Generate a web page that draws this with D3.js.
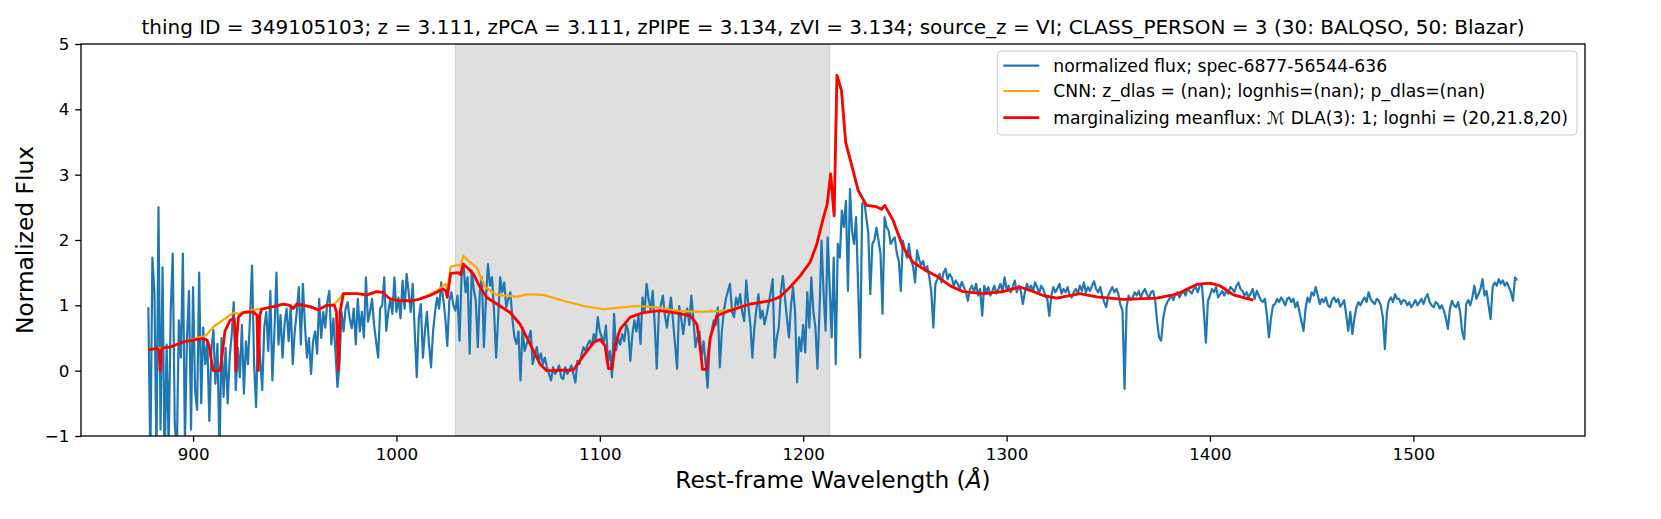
<!DOCTYPE html>
<html>
<head>
<meta charset="utf-8">
<title>Spectrum with DLA fits</title>
<script src="https://d3js.org/d3.v7.min.js"></script>
<style>
  body { margin: 0; background: #fff; }
  text { font-family: "DejaVu Sans", sans-serif; }
</style>
</head>
<body>
<svg id="chart"></svg>
<script>
// ---- data ----
const titleText = "thing ID = 349105103; z = 3.111, zPCA = 3.111, zPIPE = 3.134, zVI = 3.134; source_z = VI; CLASS_PERSON = 3 (30: BALQSO, 50: Blazar)";
const xTicks = [900, 1000, 1100, 1200, 1300, 1400, 1500];
const yTicks = [-1, 0, 1, 2, 3, 4, 5];
const shadedRange = [1029, 1213];

// normalized flux, one value per Angstrom starting at fluxStart
const fluxStart = 878, fluxStep = 1;
const fluxValues = [
  0.97, -1.4, 1.73, 1.2, -1.3, 2.5, -0.9, 1.58, -1.5, 0.4,      // 878
  -1.2, 0.9, 1.79, -0.8, -1.3, 0.77, 0.2, 1.79, -1.1, 0.5,      // 888
  1.22, -0.9, 1.28, -0.3, -0.6, 1.5, -0.5, 0.66, 0.1, 0.45,     // 898
  -0.77, 0.3, 0.62, -0.2, 0.41, -1.3, 0.5, -0.4, 0.35, -0.5,    // 908
  0.2, 0.55, 1.05, -0.3, 0.35, -0.1, 0.7, -0.35, 0.45, 0.1,     // 918
  0.8, 1.61, 0.1, -0.56, 0.75, 0.2, -0.3, 0.66, 0.9, 0.3,       // 928
  1.22, -0.15, 0.6, 1.5, 0.4, 0.85, 0.2, 0.72, 0.95, 0.45,      // 938
  1.0, 0.1, 0.6, 0.9, 1.28, 0.4, 1.33, 0.7, 0.2, 0.5,           // 948
  -0.05, 0.45, 0.6, 0.26, 1.1, 0.5, 0.9, 0.66, 1.05, 1.22,      // 958
  0.4, 0.8, 0.3, -0.25, 0.1, 0.9, 0.6, 0.95, 1.05, 0.8,         // 968
  0.65, 0.95, 0.4, 1.1, 0.6, 0.9, 0.51, 1.43, 0.75, 0.9,        // 978
  1.1, 0.7, 0.45, 0.2, 0.95, 1.0, 1.43, 0.61, 0.9, 1.1,         // 988
  0.87, 1.43, 0.9, 1.12, 0.8, 1.38, 0.95, 1.48, 1.2, 0.9,       // 998
  1.33, 0.6, -0.1, 0.8, 1.02, 0.2, 0.6, 0.9, 0.41, 0.05,        // 1008
  0.6, 0.9, 1.12, 0.95, 1.35, 1.1, 0.82, 0.38, 1.07, 1.2,       // 1018
  1.0, 0.92, 1.15, 0.46, 1.43, 1.63, 1.2, 1.43, 0.26, 1.53,     // 1028
  1.25, 1.07, 0.36, 1.2, 1.43, 0.36, 1.1, 1.63, 1.3, 1.43,      // 1038
  0.9, 0.2, 0.8, 1.43, 1.2, 1.35, 0.97, 1.1, 1.2, 0.8,          // 1048
  0.51, 0.41, 0.6, -0.15, 0.66, 0.3, 0.41, 0.5, 0.61, 0.1,      // 1058
  0.25, 0.36, 0.15, 0.26, 0.1, 0.2, 0.05, -0.05, -0.15, 0.05,   // 1068
  -0.05, 0.0, 0.08, -0.1, -0.13, 0.05, -0.05, 0.0, 0.08, -0.05, // 1078
  -0.18, 0.15, 0.1, 0.25, 0.36, 0.3, 0.4, 0.46, 0.38, 0.56,     // 1088
  0.45, 0.82, 0.6, 0.51, 0.45, 0.69, 0.15, 0.3, -0.1, 0.87,     // 1098
  0.31, 0.5, 0.4, 0.56, 0.45, 0.71, 0.6, 0.15, 0.55, 0.77,      // 1108
  0.6, 0.85, 0.41, 1.12, 0.9, 1.33, 1.1, 0.92, 1.22, 0.7,       // 1118
  0.03, 0.87, 1.0, 1.15, 0.85, 0.66, 0.9, 1.12, 0.76, 0.4,      // 1128
  0.03, 0.99, 0.8, 0.56, 0.82, 0.95, 0.7, 1.15, 0.8, 0.36,      // 1138
  0.51, 0.6, 0.2, 0.45, 0.1, -0.26, 0.41, 0.6, 0.77, 0.7,       // 1148
  0.97, 0.05, 0.6, 0.92, 1.1, 1.22, 1.33, 0.9, 0.82, 1.12,      // 1158
  1.0, 1.17, 0.9, 0.76, 1.38, 1.0, 0.71, 0.2, 0.66, 0.95,       // 1168
  1.17, 0.8, 0.92, 0.71, 0.85, 1.02, 1.2, 1.4, 0.2, 0.5,        // 1178
  0.66, 1.2, 1.45, 1.12, 0.8, 0.51, 1.0, 1.28, 0.9, -0.18,      // 1188
  0.51, 0.3, 0.7, 0.28, 1.2, 0.66, 1.43, 0.9, 0.66, 0.03,       // 1198
  0.9, 1.99, 1.2, 0.61, 2.04, 1.3, 0.51, 1.73, 0.1, 1.94,       // 1208
  1.73, 2.45, 2.2, 2.6, 1.22, 2.78, 2.14, 1.94, 2.35, 1.3,      // 1218
  0.2, 2.55, 2.6, 2.35, 2.1, 1.17, 1.94, 2.0, 2.19, 2.0,        // 1228
  1.79, 0.87, 2.35, 2.2, 2.14, 1.94, 2.0, 2.04, 1.8, 1.68,      // 1238
  1.22, 1.99, 1.85, 1.73, 1.94, 1.7, 1.6, 1.35, 1.84, 1.7,      // 1248
  1.62, 1.68, 1.53, 1.6, 1.43, 1.2, 0.66, 1.33, 1.4, 1.48,      // 1258
  1.35, 1.5, 1.56, 1.4, 1.48, 1.43, 1.3, 1.38, 1.33, 1.25,      // 1268
  1.36, 1.28, 1.2, 1.07, 1.25, 1.3, 1.2, 1.33, 1.15, 1.25,      // 1278
  0.84, 1.3, 1.2, 1.28, 1.15, 1.22, 1.3, 1.18, 1.25, 1.33,      // 1288
  1.2, 1.43, 1.25, 1.3, 1.2, 1.28, 1.38, 1.2, 1.3, 1.22,        // 1298
  1.02, 1.2, 1.33, 1.25, 1.3, 1.22, 1.35, 1.28, 1.18, 1.3,      // 1308
  1.25, 1.15, 1.1, 0.84, 1.15, 1.28, 1.2, 1.26, 1.33, 1.18,     // 1318
  1.25, 1.2, 1.28, 1.15, 1.12, 1.2, 1.25, 1.18, 1.3, 1.22,      // 1328
  1.35, 1.2, 1.28, 1.22, 1.3, 1.37, 1.25, 1.2, 1.28, 1.15,      // 1338
  1.05, 0.97, 1.15, 1.22, 1.28, 1.2, 1.25, 1.17, 1.0, 0.92,     // 1348
  -0.28, 0.97, 1.15, 1.08, 1.12, 1.2, 1.15, 1.22, 1.12, 1.2,    // 1358
  1.25, 1.17, 1.1, 1.2, 1.22, 1.1, 0.75, 0.51, 0.46, 0.8,       // 1368
  0.97, 1.05, 1.1, 1.15, 1.08, 1.17, 1.2, 1.12, 1.18, 1.22,     // 1378
  1.15, 1.25, 1.22, 1.18, 1.25, 1.28, 1.2, 1.3, 1.33, 0.9,      // 1388
  0.43, 1.07, 1.15, 1.25, 1.2, 1.28, 1.12, 1.17, 1.22, 1.15,    // 1398
  1.22, 1.18, 1.28, 1.25, 1.2, 1.3, 1.35, 1.25, 1.22, 1.15,     // 1408
  1.2, 1.12, 1.18, 1.25, 1.1, 1.22, 1.15, 1.08, 1.05, 1.1,      // 1418
  0.85, 0.51, 0.8, 1.0, 1.02, 1.1, 1.05, 1.12, 1.07, 1.0,       // 1428
  1.1, 1.12, 1.05, 1.1, 0.97, 1.05, 0.9, 0.75, 0.61, 0.95,      // 1438
  1.12, 1.05, 1.2, 1.15, 1.28, 1.15, 1.02, 1.1, 1.05, 1.12,     // 1448
  1.0, 0.97, 1.08, 1.12, 1.05, 1.1, 0.98, 1.02, 1.08, 0.85,     // 1458
  0.61, 0.9, 0.56, 0.8, 0.97, 1.05, 1.0, 1.07, 1.12, 1.05,      // 1468
  1.2, 1.1, 1.05, 1.02, 1.1, 1.07, 1.0, 0.82, 0.33, 0.9,        // 1478
  1.07, 1.12, 1.05, 1.17, 1.1, 1.1, 1.02, 1.08, 1.07, 1.0,      // 1488
  1.05, 0.97, 1.02, 1.08, 1.0, 1.05, 1.1, 1.02, 1.12, 1.17,     // 1498
  1.05, 1.0, 0.97, 1.05, 1.02, 0.95, 1.0, 0.92, 0.8, 0.64,      // 1508
  0.95, 1.07, 1.0, 0.97, 1.05, 0.9, 0.6, 0.48, 1.02, 1.08,      // 1518
  1.0, 1.12, 1.3, 1.1, 1.17, 1.25, 1.4, 1.15, 1.22, 1.0,        // 1528
  0.79, 1.28, 1.35, 1.3, 1.4, 1.33, 1.38, 1.3, 1.35, 1.28,      // 1538
  1.2, 1.07, 1.43, 1.38                                         // 1548
];

// CNN model continuum [wavelength, flux]
const cnnCurve = [
  [878, 0.32], [882.5, 0.34], [885, 0.35], [888.7, 0.36], [892, 0.4], [895.2, 0.44],
  [898.5, 0.47], [901.8, 0.5], [905, 0.52], [906.7, 0.55], [910, 0.67], [914.5, 0.77],
  [918.2, 0.85], [920.2, 0.89], [922.3, 0.87], [924.7, 0.89], [929.6, 0.93], [933.7, 0.95],
  [939.5, 0.98], [944.4, 1.02], [947.5, 1.0], [949.3, 0.96], [951, 1.02], [957.5, 0.98],
  [961.5, 0.94], [965.7, 1.0], [970, 1.03], [973.9, 1.18], [980.4, 1.18], [985.4, 1.16],
  [990.3, 1.21], [993, 1.2], [996.8, 1.1], [1001.7, 1.07], [1008, 1.07], [1011.6, 1.1],
  [1016.5, 1.17], [1019.8, 1.22], [1023, 1.3], [1024.2, 1.33], [1025, 1.25], [1026.7, 1.59],
  [1030.4, 1.62], [1031.5, 1.6], [1032.9, 1.76], [1035.4, 1.68], [1039.4, 1.58], [1043.6, 1.28],
  [1049.4, 1.16], [1059.2, 1.13], [1064.1, 1.17], [1072.3, 1.16], [1082.1, 1.07], [1092, 0.99],
  [1101.8, 0.94], [1108, 0.96], [1118.2, 0.99], [1128, 0.97], [1137.9, 0.92], [1147.8, 0.9],
  [1157.6, 0.91], [1164, 0.93], [1173.9, 1.02], [1183.7, 1.07], [1188.6, 1.13], [1193.6, 1.28],
  [1198.5, 1.45], [1203.4, 1.66], [1206.7, 1.94], [1210, 2.35], [1211.8, 2.55], [1213.5, 3.01],
  [1215.2, 2.37], [1216.6, 4.52], [1218.8, 4.29], [1220.9, 3.49], [1223.7, 3.16], [1227, 2.76],
  [1231.1, 2.53], [1236, 2.51], [1238.5, 2.47], [1240.1, 2.53], [1244.2, 2.3], [1249.1, 1.89],
  [1254, 1.66], [1260.6, 1.53], [1265.5, 1.45], [1272.1, 1.3], [1278.6, 1.21], [1288.5, 1.18],
  [1298.3, 1.21], [1306.5, 1.28], [1311.5, 1.23], [1318, 1.15], [1324.6, 1.11], [1336.1, 1.18],
  [1344.3, 1.13], [1357.4, 1.09], [1373.8, 1.11], [1383.6, 1.17], [1393.5, 1.32], [1400, 1.34],
  [1404.9, 1.3], [1411.5, 1.16], [1421.3, 1.08]
];

// marginalizing meanflux model with DLAs [wavelength, flux]
const dlaCurve = [
  [878, 0.32], [882.5, 0.34], [883.3, 0.3], [883.8, 0.0], [884.3, 0.3], [885, 0.35],
  [888.7, 0.36], [892, 0.4], [895.2, 0.44], [898.5, 0.46], [901.8, 0.48], [905, 0.49],
  [906.7, 0.47], [907.8, 0.4], [909, 0.15], [910, 0.0], [913.3, 0.0], [914.5, 0.3],
  [915.7, 0.61], [918.2, 0.77], [920.2, 0.8], [920.8, 0.5], [921.1, 0.0], [921.5, 0.5],
  [922.3, 0.82], [924.7, 0.89], [929.6, 0.9], [931.4, 0.85], [932.1, 0.0], [932.8, 0.85],
  [933.7, 0.94], [939.5, 0.98], [944.4, 1.02], [947.5, 1.0], [949.3, 0.95], [951, 1.02],
  [957.5, 0.98], [961.5, 0.93], [965.7, 1.0], [969.5, 1.0], [970.5, 0.9], [971.4, 0.0],
  [972.3, 0.9], [973.9, 1.18], [980.4, 1.18], [985.4, 1.16], [990.3, 1.21], [993, 1.2],
  [996.8, 1.1], [1001.7, 1.07], [1008, 1.07], [1011.6, 1.1], [1016.5, 1.15], [1019.8, 1.2],
  [1023, 1.25], [1024.2, 1.22], [1025, 1.12], [1025.8, 1.3], [1026.7, 1.49], [1030.4, 1.5],
  [1031.5, 1.47], [1032.9, 1.63], [1035.4, 1.56], [1037.8, 1.48], [1041.1, 1.28], [1044.4, 1.12],
  [1049.4, 1.02], [1055.9, 0.89], [1060.8, 0.71], [1065.7, 0.41], [1070.6, 0.1], [1073.9, 0.0],
  [1087, 0.01], [1092, 0.23], [1096.9, 0.43], [1100.2, 0.48], [1102.6, 0.38], [1103.6, 0.15],
  [1104.3, 0.03], [1106, 0.03], [1107.6, 0.41], [1110.1, 0.64], [1115, 0.82], [1121.5, 0.89],
  [1129.7, 0.92], [1137.9, 0.88], [1144.5, 0.84], [1147.8, 0.71], [1149.5, 0.3], [1150.5, 0.02],
  [1152.5, 0.02], [1153.5, 0.3], [1154.3, 0.51], [1157.6, 0.84], [1164, 0.92], [1173.9, 1.02],
  [1183.7, 1.07], [1188.6, 1.13], [1193.6, 1.28], [1198.5, 1.45], [1203.4, 1.66], [1206.7, 1.94],
  [1210, 2.35], [1211.8, 2.55], [1213.5, 3.01], [1215.2, 2.37], [1216.6, 4.52], [1218.8, 4.29],
  [1220.9, 3.49], [1223.7, 3.16], [1227, 2.76], [1231.1, 2.53], [1236, 2.51], [1238.5, 2.47],
  [1240.1, 2.53], [1244.2, 2.3], [1249.1, 1.89], [1254, 1.66], [1260.6, 1.53], [1265.5, 1.45],
  [1272.1, 1.3], [1278.6, 1.21], [1288.5, 1.18], [1298.3, 1.21], [1306.5, 1.28], [1311.5, 1.23],
  [1318, 1.15], [1324.6, 1.11], [1336.1, 1.18], [1344.3, 1.13], [1357.4, 1.09], [1373.8, 1.11],
  [1383.6, 1.17], [1393.5, 1.32], [1400, 1.34], [1404.9, 1.3], [1411.5, 1.16], [1421.3, 1.08]
];

const legendLabels = [
  "normalized flux; spec-6877-56544-636",
  "CNN: z_dlas = (nan); lognhis=(nan); p_dlas=(nan)",
  "marginalizing meanflux: \u2133 DLA(3): 1; lognhi = (20,21.8,20)"
];
const seriesColors = ["#1f77b4", "#ffa500", "#ff0000"];
const seriesWidths = [2.2, 2.2, 2.8];

// ---- layout ----
const W = 1661, H = 519;
const margin = {top: 44, right: 76, bottom: 83, left: 81};
const width = W - margin.left - margin.right,
      height = H - margin.top - margin.bottom;
const tickLen = 5.8;

const svg = d3.select("#chart")
    .attr("width", W)
    .attr("height", H);

svg.append("rect").attr("width", W).attr("height", H).attr("fill", "#fff");

const g = svg.append("g")
    .attr("transform", `translate(${margin.left},${margin.top})`);

const x = d3.scaleLinear().domain([844.9, 1584.4]).range([0, width]);
const y = d3.scaleLinear().domain([-1, 5]).range([height, 0]);

g.append("clipPath").attr("id", "plot-clip")
  .append("rect").attr("width", width).attr("height", height);

const plot = g.append("g").attr("clip-path", "url(#plot-clip)");

// shaded window
plot.append("rect")
    .attr("x", x(shadedRange[0]))
    .attr("y", 0)
    .attr("width", x(shadedRange[1]) - x(shadedRange[0]))
    .attr("height", height)
    .attr("fill", "gray").attr("fill-opacity", 0.25)
    .attr("stroke", "gray").attr("stroke-opacity", 0.25).attr("stroke-width", 1.2);

const line = d3.line().x(d => x(d[0])).y(d => y(d[1]));
const fluxData = fluxValues.map((v, i) => [fluxStart + i * fluxStep, v]);

[fluxData, cnnCurve, dlaCurve].forEach((d, i) => {
  plot.append("path")
      .datum(d)
      .attr("fill", "none")
      .attr("stroke", seriesColors[i])
      .attr("stroke-width", seriesWidths[i])
      .attr("stroke-linejoin", "round")
      .attr("d", line);
});

// axes
const xAxis = g.append("g")
    .attr("transform", `translate(0,${height})`)
    .call(d3.axisBottom(x).tickValues(xTicks).tickSize(tickLen).tickSizeOuter(0)
      .tickPadding(6.3).tickFormat(d3.format("d")));
const yAxis = g.append("g")
    .call(d3.axisLeft(y).tickValues(yTicks).tickSize(tickLen).tickSizeOuter(0)
      .tickPadding(5.8).tickFormat(d3.format("d")));

[xAxis, yAxis].forEach(a => {
  a.select(".domain").remove();
  a.selectAll("text").attr("font-size", 16.7).attr("fill", "#000")
      .attr("font-family", "DejaVu Sans");
  a.selectAll("line").attr("stroke", "#000").attr("stroke-width", 1.3);
});

// frame
g.append("rect")
    .attr("width", width).attr("height", height)
    .attr("fill", "none").attr("stroke", "#000").attr("stroke-width", 1.3);

// labels
svg.append("text")
    .attr("x", margin.left + width / 2).attr("y", 33.5)
    .attr("text-anchor", "middle").attr("font-size", 20)
    .text(titleText);

const xl = svg.append("text")
    .attr("x", margin.left + width / 2).attr("y", 488)
    .attr("text-anchor", "middle").attr("font-size", 23.3);
xl.append("tspan").text("Rest-frame Wavelength (");
xl.append("tspan").attr("font-style", "italic").text("\u00c5");
xl.append("tspan").text(")");

svg.append("text")
    .attr("transform", `translate(32.5,${margin.top + height / 2}) rotate(-90)`)
    .attr("text-anchor", "middle").attr("font-size", 23.3)
    .text("Normalized Flux");

// legend
const legendRight = margin.left + width - 8, legendTop = 51;
const rowY = [65.7, 91, 117.7];
const legend = svg.append("g");
const box = legend.append("rect");
const labels = legendLabels.map((t, i) =>
  legend.append("text")
      .attr("y", rowY[i]).attr("dy", "0.35em")
      .attr("font-size", 17.2)
      .text(t));
const maxW = d3.max(labels, l => l.node().getComputedTextLength());
const legendLeft = legendRight - (maxW + 56 + 9);
labels.forEach(l => l.attr("x", legendLeft + 56));
legendLabels.forEach((t, i) => {
  legend.append("line")
      .attr("x1", legendLeft + 6).attr("x2", legendLeft + 42)
      .attr("y1", rowY[i]).attr("y2", rowY[i])
      .attr("stroke", seriesColors[i]).attr("stroke-width", seriesWidths[i]);
});
box.attr("x", legendLeft).attr("y", legendTop)
    .attr("width", legendRight - legendLeft).attr("height", 84)
    .attr("rx", 4)
    .attr("fill", "#fff").attr("fill-opacity", 0.8)
    .attr("stroke", "#cccccc").attr("stroke-width", 1);
</script>
</body>
</html>
